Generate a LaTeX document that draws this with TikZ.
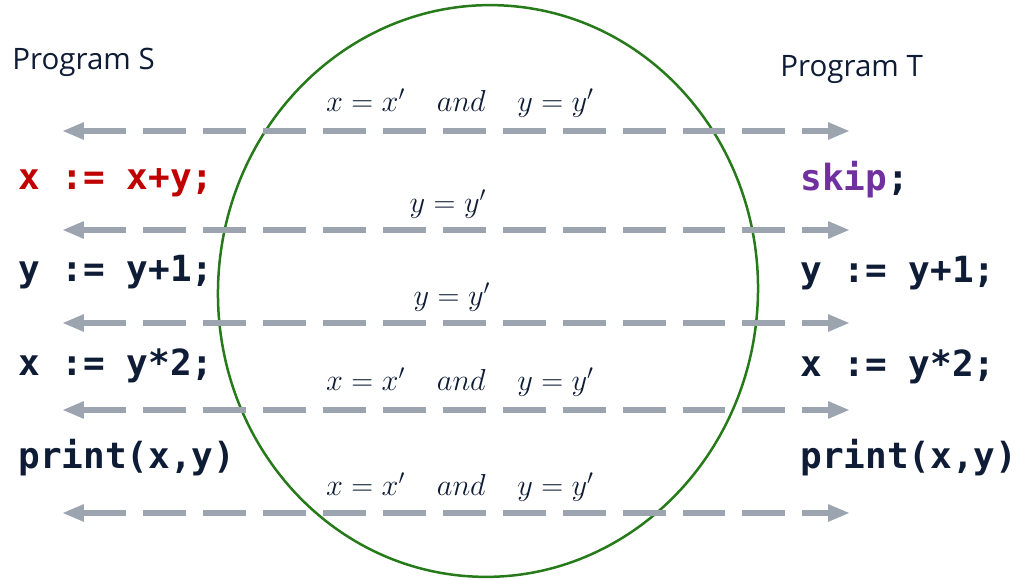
\documentclass[tikz,border=0pt]{standalone}
\usepackage{amsmath}
\usepackage{fontspec}
\setmainfont{Open Sans}
\setmonofont{DejaVu Sans Mono}
\usepackage{tikz}
\usetikzlibrary{arrows.meta, positioning}

\definecolor{inkblue}{RGB}{14,28,54}
\definecolor{arrowgray}{RGB}{155,164,175}
\definecolor{regiongreen}{RGB}{38,122,26}
\definecolor{changered}{RGB}{192,0,0}
\definecolor{skippurple}{RGB}{112,48,160}

\begin{document}
\begin{tikzpicture}[
    x=0.02cm, y=-0.02cm,
    title node/.style={anchor=west, inner sep=0pt, text=inkblue, font=\fontsize{16.8}{20}\selectfont},
    code node/.style={anchor=west, inner sep=0pt, text=inkblue, font=\fontsize{20.5}{24}\selectfont\ttfamily\bfseries},
    rel node/.style={inner sep=0pt, text=inkblue, font=\fontsize{18}{22}\selectfont},
    rel arrow/.style={{Triangle[length=0.44cm, width=0.32cm]}-{Triangle[length=0.44cm, width=0.32cm]}, arrowgray, line width=0.12cm, dash pattern=on 0.86cm off 0.34cm},
    region/.style={draw=regiongreen, line width=0.05cm}
]
    \useasboundingbox (0,0) rectangle (1019,580);

    % Relation region
    \draw[region, rotate around={-4:(488,291)}] (488,291) ellipse [x radius=5.4cm, y radius=5.72cm];

    % Titles
    \node[title node] (titleS) at (12,62) {Program S};
    \node[title node] (titleT) at (780,70) {Program T};

    % Program S
    \node[code node, text=changered] (s1) at (18,183) {x := x+y;};
    \node[code node] (s2) at (18,272) {y := y+1;};
    \node[code node] (s3) at (18,366) {x := y*2;};
    \node[code node] (s4) at (18,458) {print(x,y)};

    % Program T
    \node[code node] (t1) at (800,180) {\textcolor{skippurple}{skip};};
    \node[code node] (t2) at (800,273) {y := y+1;};
    \node[code node] (t3) at (800,367) {x := y*2;};
    \node[code node] (t4) at (800,458) {print(x,y)};

    % Arrow ends
    \coordinate (l0) at (62,131);  \coordinate (r0) at (850,131);
    \coordinate (l1) at (62,230);  \coordinate (r1) at (850,230);
    \coordinate (l2) at (62,323);  \coordinate (r2) at (850,323);
    \coordinate (l3) at (62,410);  \coordinate (r3) at (850,410);
    \coordinate (l4) at (62,513);  \coordinate (r4) at (850,513);

    \draw[rel arrow] (l0) -- (r0);
    \draw[rel arrow] (l1) -- (r1);
    \draw[rel arrow] (l2) -- (r2);
    \draw[rel arrow] (l3) -- (r3);
    \draw[rel arrow] (l4) -- (r4);

    % Relations
    \node[rel node] (rel0) at (460,103) {$x = x' \quad and \quad y = y'$};
    \node[rel node] (rel1) at (448,204) {$y = y'$};
    \node[rel node] (rel2) at (452,297) {$y = y'$};
    \node[rel node] (rel3) at (460,382) {$x = x' \quad and \quad y = y'$};
    \node[rel node] (rel4) at (460,487) {$x = x' \quad and \quad y = y'$};
\end{tikzpicture}
\end{document}
